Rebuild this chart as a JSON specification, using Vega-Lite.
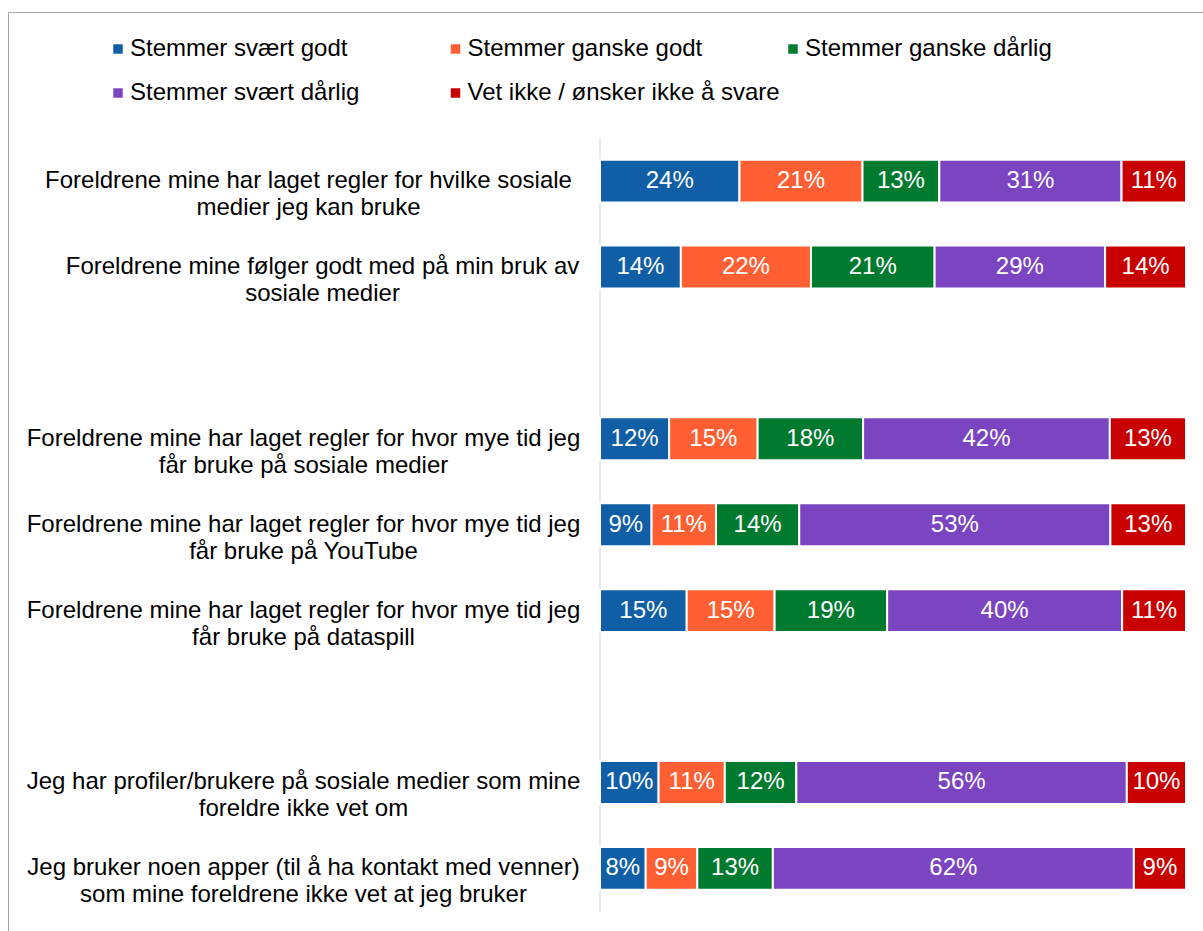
{
  "$schema": "https://vega.github.io/schema/vega-lite/v6.json",
  "width": 1195,
  "height": 919,
  "autosize": {"type": "none"},
  "padding": {"left": 8, "top": 12, "right": 0, "bottom": 0},
  "background": "white",
  "config": {"font": "Liberation Sans", "view": {"stroke": "#a6a6a6", "strokeWidth": 1}},
  "datasets": {
    "rows": [
      {"q": "Foreldrene mine har laget regler for hvilke sosiale|medier jeg kan bruke"},
      {"q": "Foreldrene mine følger godt med på min bruk av|sosiale medier"},
      {"q": " "},
      {"q": "Foreldrene mine har laget regler for hvor mye tid jeg|får bruke på sosiale medier"},
      {"q": "Foreldrene mine har laget regler for hvor mye tid jeg|får bruke på YouTube"},
      {"q": "Foreldrene mine har laget regler for hvor mye tid jeg|får bruke på dataspill"},
      {"q": "  "},
      {"q": "Jeg har profiler/brukere på sosiale medier som mine|foreldre ikke vet om"},
      {"q": "Jeg bruker noen apper (til å ha kontakt med venner)|som mine foreldrene ikke vet at jeg bruker"}
    ],
    "main": [
      {"q": "Foreldrene mine har laget regler for hvilke sosiale|medier jeg kan bruke", "s": "Stemmer svært godt", "k": 1, "v": 0.238},
      {"q": "Foreldrene mine har laget regler for hvilke sosiale|medier jeg kan bruke", "s": "Stemmer ganske godt", "k": 2, "v": 0.210},
      {"q": "Foreldrene mine har laget regler for hvilke sosiale|medier jeg kan bruke", "s": "Stemmer ganske dårlig", "k": 3, "v": 0.131},
      {"q": "Foreldrene mine har laget regler for hvilke sosiale|medier jeg kan bruke", "s": "Stemmer svært dårlig", "k": 4, "v": 0.311},
      {"q": "Foreldrene mine har laget regler for hvilke sosiale|medier jeg kan bruke", "s": "Vet ikke / ønsker ikke å svare", "k": 5, "v": 0.110},

      {"q": "Foreldrene mine følger godt med på min bruk av|sosiale medier", "s": "Stemmer svært godt", "k": 1, "v": 0.138},
      {"q": "Foreldrene mine følger godt med på min bruk av|sosiale medier", "s": "Stemmer ganske godt", "k": 2, "v": 0.222},
      {"q": "Foreldrene mine følger godt med på min bruk av|sosiale medier", "s": "Stemmer ganske dårlig", "k": 3, "v": 0.211},
      {"q": "Foreldrene mine følger godt med på min bruk av|sosiale medier", "s": "Stemmer svært dårlig", "k": 4, "v": 0.291},
      {"q": "Foreldrene mine følger godt med på min bruk av|sosiale medier", "s": "Vet ikke / ønsker ikke å svare", "k": 5, "v": 0.138},

      {"q": "Foreldrene mine har laget regler for hvor mye tid jeg|får bruke på sosiale medier", "s": "Stemmer svært godt", "k": 1, "v": 0.118},
      {"q": "Foreldrene mine har laget regler for hvor mye tid jeg|får bruke på sosiale medier", "s": "Stemmer ganske godt", "k": 2, "v": 0.151},
      {"q": "Foreldrene mine har laget regler for hvor mye tid jeg|får bruke på sosiale medier", "s": "Stemmer ganske dårlig", "k": 3, "v": 0.180},
      {"q": "Foreldrene mine har laget regler for hvor mye tid jeg|får bruke på sosiale medier", "s": "Stemmer svært dårlig", "k": 4, "v": 0.421},
      {"q": "Foreldrene mine har laget regler for hvor mye tid jeg|får bruke på sosiale medier", "s": "Vet ikke / ønsker ikke å svare", "k": 5, "v": 0.130},

      {"q": "Foreldrene mine har laget regler for hvor mye tid jeg|får bruke på YouTube", "s": "Stemmer svært godt", "k": 1, "v": 0.088},
      {"q": "Foreldrene mine har laget regler for hvor mye tid jeg|får bruke på YouTube", "s": "Stemmer ganske godt", "k": 2, "v": 0.110},
      {"q": "Foreldrene mine har laget regler for hvor mye tid jeg|får bruke på YouTube", "s": "Stemmer ganske dårlig", "k": 3, "v": 0.142},
      {"q": "Foreldrene mine har laget regler for hvor mye tid jeg|får bruke på YouTube", "s": "Stemmer svært dårlig", "k": 4, "v": 0.531},
      {"q": "Foreldrene mine har laget regler for hvor mye tid jeg|får bruke på YouTube", "s": "Vet ikke / ønsker ikke å svare", "k": 5, "v": 0.129},

      {"q": "Foreldrene mine har laget regler for hvor mye tid jeg|får bruke på dataspill", "s": "Stemmer svært godt", "k": 1, "v": 0.148},
      {"q": "Foreldrene mine har laget regler for hvor mye tid jeg|får bruke på dataspill", "s": "Stemmer ganske godt", "k": 2, "v": 0.150},
      {"q": "Foreldrene mine har laget regler for hvor mye tid jeg|får bruke på dataspill", "s": "Stemmer ganske dårlig", "k": 3, "v": 0.192},
      {"q": "Foreldrene mine har laget regler for hvor mye tid jeg|får bruke på dataspill", "s": "Stemmer svært dårlig", "k": 4, "v": 0.401},
      {"q": "Foreldrene mine har laget regler for hvor mye tid jeg|får bruke på dataspill", "s": "Vet ikke / ønsker ikke å svare", "k": 5, "v": 0.109},

      {"q": "Jeg har profiler/brukere på sosiale medier som mine|foreldre ikke vet om", "s": "Stemmer svært godt", "k": 1, "v": 0.100},
      {"q": "Jeg har profiler/brukere på sosiale medier som mine|foreldre ikke vet om", "s": "Stemmer ganske godt", "k": 2, "v": 0.113},
      {"q": "Jeg har profiler/brukere på sosiale medier som mine|foreldre ikke vet om", "s": "Stemmer ganske dårlig", "k": 3, "v": 0.122},
      {"q": "Jeg har profiler/brukere på sosiale medier som mine|foreldre ikke vet om", "s": "Stemmer svært dårlig", "k": 4, "v": 0.564},
      {"q": "Jeg har profiler/brukere på sosiale medier som mine|foreldre ikke vet om", "s": "Vet ikke / ønsker ikke å svare", "k": 5, "v": 0.101},

      {"q": "Jeg bruker noen apper (til å ha kontakt med venner)|som mine foreldrene ikke vet at jeg bruker", "s": "Stemmer svært godt", "k": 1, "v": 0.078},
      {"q": "Jeg bruker noen apper (til å ha kontakt med venner)|som mine foreldrene ikke vet at jeg bruker", "s": "Stemmer ganske godt", "k": 2, "v": 0.088},
      {"q": "Jeg bruker noen apper (til å ha kontakt med venner)|som mine foreldrene ikke vet at jeg bruker", "s": "Stemmer ganske dårlig", "k": 3, "v": 0.129},
      {"q": "Jeg bruker noen apper (til å ha kontakt med venner)|som mine foreldrene ikke vet at jeg bruker", "s": "Stemmer svært dårlig", "k": 4, "v": 0.616},
      {"q": "Jeg bruker noen apper (til å ha kontakt med venner)|som mine foreldrene ikke vet at jeg bruker", "s": "Vet ikke / ønsker ikke å svare", "k": 5, "v": 0.089}
    ]
  },
  "layer": [
    {
      "data": {"name": "rows"},
      "mark": {"type": "tick", "orient": "vertical", "size": 86.5, "thickness": 1.6, "color": "#CBD5E1"},
      "encoding": {
        "x": {"datum": 0, "type": "quantitative", "scale": {"domain": [-1.0102, 1.029], "nice": false, "zero": false}, "axis": null},
        "y": {
          "field": "q", "type": "nominal", "sort": null,
          "scale": {
            "domain": [
              "   ",
              "Foreldrene mine har laget regler for hvilke sosiale|medier jeg kan bruke",
              "Foreldrene mine følger godt med på min bruk av|sosiale medier",
              " ",
              "Foreldrene mine har laget regler for hvor mye tid jeg|får bruke på sosiale medier",
              "Foreldrene mine har laget regler for hvor mye tid jeg|får bruke på YouTube",
              "Foreldrene mine har laget regler for hvor mye tid jeg|får bruke på dataspill",
              "  ",
              "Jeg har profiler/brukere på sosiale medier som mine|foreldre ikke vet om",
              "Jeg bruker noen apper (til å ha kontakt med venner)|som mine foreldrene ikke vet at jeg bruker"
            ],
            "paddingInner": 0.5, "paddingOuter": 0.599, "align": 0.6
          },
          "axis": {
            "orient": "left", "offset": -592, "domain": false, "ticks": false, "tickSize": 0, "grid": false,
            "labelAlign": "center",
            "labelPadding": {"condition": [
              {"test": "indexof(datum.label, 'følger') >= 0", "value": 278},
              {"test": "indexof(datum.label, 'hvilke') >= 0", "value": 292}
            ], "value": 297},
            "labelFontSize": 24, "labelColor": "black",
            "labelLimit": 0, "labelLineHeight": 27, "labelExpr": "split(datum.label, '|')", "title": null
          }
        }
      }
    },
    {
      "data": {"name": "main"},
      "mark": {"type": "bar", "stroke": "white", "strokeWidth": 2},
      "encoding": {
        "x": {"field": "v", "type": "quantitative", "stack": "zero"},
        "y": {"field": "q", "type": "nominal", "sort": null},
        "order": {"field": "k", "type": "quantitative"},
        "color": {
          "field": "s", "type": "nominal",
          "scale": {
            "domain": ["Stemmer svært godt", "Stemmer ganske godt", "Stemmer ganske dårlig", "Stemmer svært dårlig", "Vet ikke / ønsker ikke å svare"],
            "range": ["#105FA6", "#FF5F33", "#007A2E", "#7B44C0", "#C80000"]
          },
          "legend": {
            "orient": "none", "legendX": 98, "legendY": 25, "columns": 3, "direction": "horizontal",
            "gridAlign": "all", "columnPadding": 0.5, "rowPadding": 20, "symbolType": "square", "symbolSize": 90,
            "symbolStrokeWidth": 0, "labelFontSize": 24, "labelColor": "black", "labelOffset": 0,
            "labelLimit": 0, "title": null, "padding": 0
          }
        }
      }
    },
    {
      "data": {"name": "main"},
      "mark": {"type": "text", "color": "white", "fontSize": 24, "align": "center", "baseline": "middle"},
      "encoding": {
        "x": {"field": "v", "type": "quantitative", "stack": "zero", "bandPosition": 0.5},
        "y": {"field": "q", "type": "nominal", "sort": null},
        "order": {"field": "k", "type": "quantitative"},
        "text": {"field": "v", "type": "quantitative", "format": ".0%"}
      }
    }
  ]
}
